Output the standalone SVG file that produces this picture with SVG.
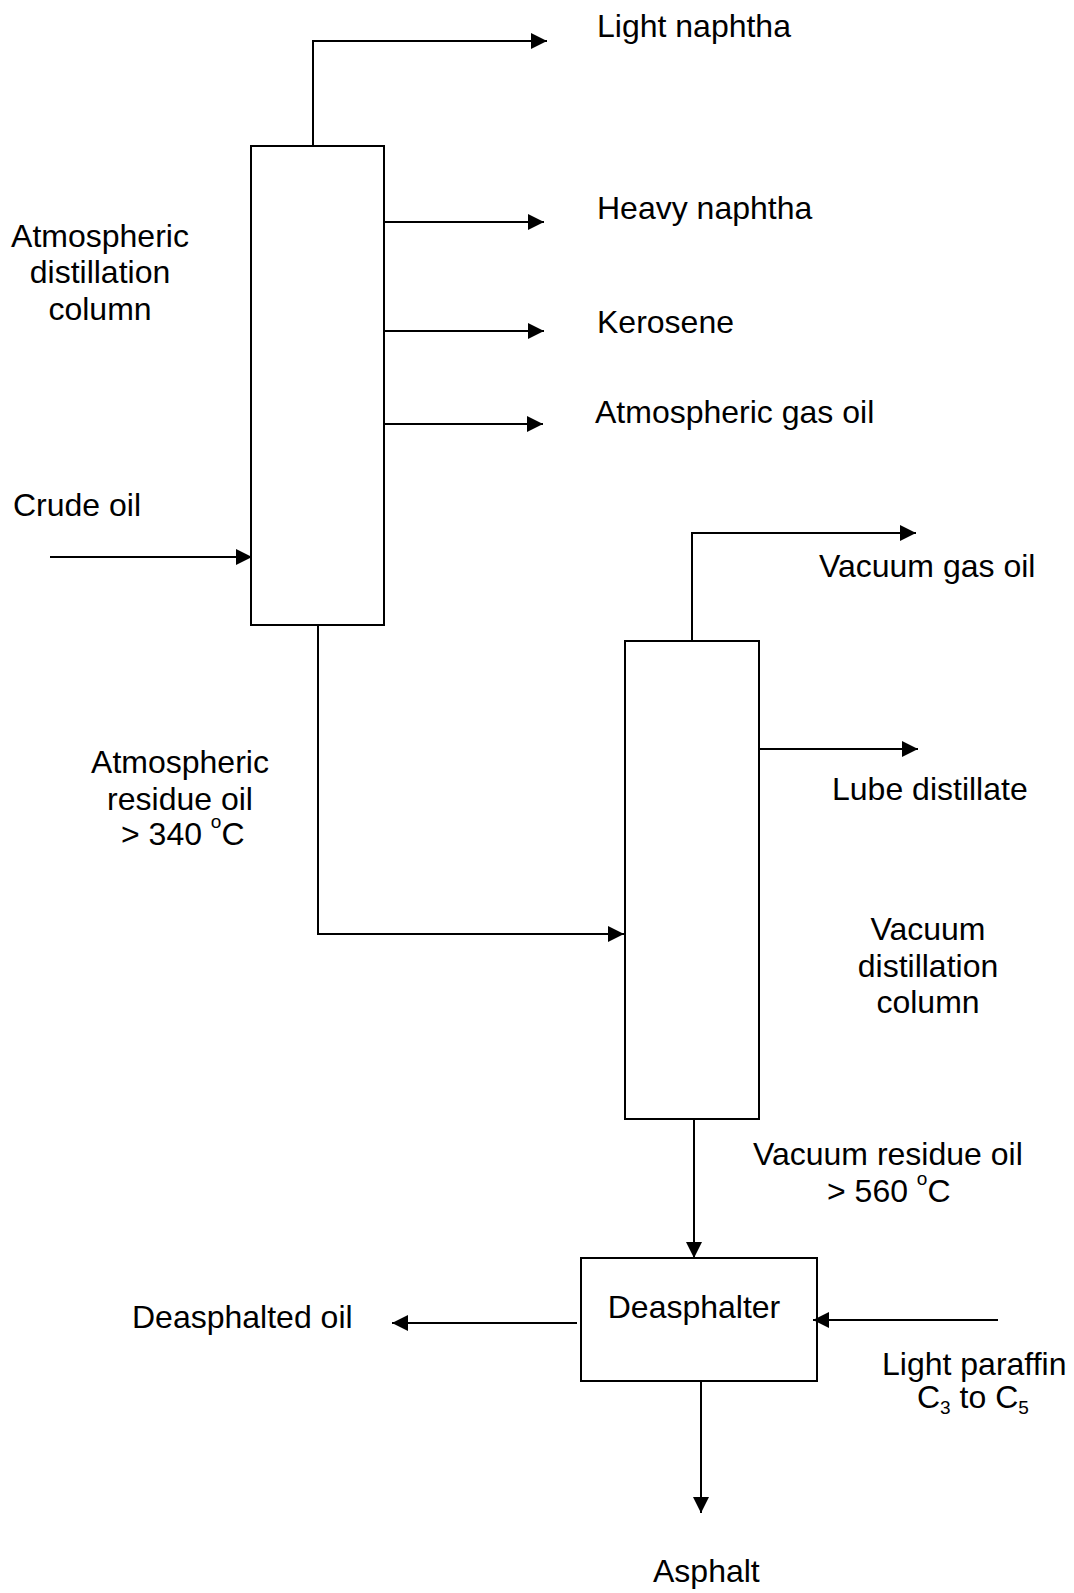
<svg xmlns="http://www.w3.org/2000/svg" width="1074" height="1593" viewBox="0 0 1074 1593">
<style>
.box{fill:none;stroke:#000;stroke-width:2}
.ln{fill:none;stroke:#000;stroke-width:2;marker-end:url(#arr)}
text{font-family:"Liberation Sans",Arial,sans-serif;font-size:32px;fill:#000}
.c{text-anchor:middle}
.sup{font-size:19px}
</style>
<defs>
<marker id="arr" viewBox="0 0 16 16" refX="16" refY="8" markerWidth="16" markerHeight="16" orient="auto" markerUnits="userSpaceOnUse"><path d="M0,0 L16,8 L0,16 z" fill="#000"/></marker>
</defs>
<rect width="1074" height="1593" fill="#fff"/>
<g id="connectors">
<polyline class="ln" points="313,146 313,41 547,41"/>
<line class="ln" x1="384" y1="222" x2="544" y2="222"/>
<line class="ln" x1="384" y1="331" x2="544" y2="331"/>
<line class="ln" x1="384" y1="424" x2="543" y2="424"/>
<line class="ln" x1="50" y1="557" x2="252" y2="557"/>
<polyline class="ln" points="318,625 318,934 624,934"/>
<polyline class="ln" points="692,641 692,533 916,533"/>
<line class="ln" x1="758" y1="749" x2="918" y2="749"/>
<line class="ln" x1="694" y1="1119" x2="694" y2="1258"/>
<line class="ln" x1="577" y1="1323" x2="392" y2="1323"/>
<line class="ln" x1="998" y1="1320" x2="813" y2="1320"/>
<line class="ln" x1="701" y1="1381" x2="701" y2="1513"/>
</g>
<g id="atm-column">
<rect class="box" x="251" y="146" width="133" height="479"/>
<text class="c" x="100" y="247">Atmospheric</text>
<text class="c" x="100" y="283">distillation</text>
<text class="c" x="100" y="320">column</text>
</g>
<g id="vac-column">
<rect class="box" x="625" y="641" width="134" height="478"/>
<text class="c" x="928" y="940">Vacuum</text>
<text class="c" x="928" y="977">distillation</text>
<text class="c" x="928" y="1013">column</text>
</g>
<g id="deasphalter">
<rect class="box" x="581" y="1258" width="236" height="123"/>
<text class="c" x="694" y="1318">Deasphalter</text>
</g>
<g id="labels">
<text x="597" y="37">Light naphtha</text>
<text x="597" y="219">Heavy naphtha</text>
<text x="597" y="333">Kerosene</text>
<text x="595" y="423">Atmospheric gas oil</text>
<text x="13" y="516">Crude oil</text>
<text x="819" y="577">Vacuum gas oil</text>
<text x="832" y="800">Lube distillate</text>
<text class="c" x="180" y="773">Atmospheric</text>
<text class="c" x="180" y="810">residue oil</text>
<text x="121" y="845">&gt; 340 <tspan class="sup" dy="-17">o</tspan><tspan dy="17">C</tspan></text>
<text x="753" y="1165">Vacuum residue oil</text>
<text x="827" y="1202">&gt; 560 <tspan class="sup" dy="-17">o</tspan><tspan dy="17">C</tspan></text>
<text x="132" y="1328">Deasphalted oil</text>
<text x="882" y="1375">Light paraffin</text>
<text x="917" y="1408">C<tspan class="sup" dy="6">3</tspan><tspan dy="-6"> to C</tspan><tspan class="sup" dy="6">5</tspan></text>
<text x="653" y="1582">Asphalt</text>
</g>
</svg>
